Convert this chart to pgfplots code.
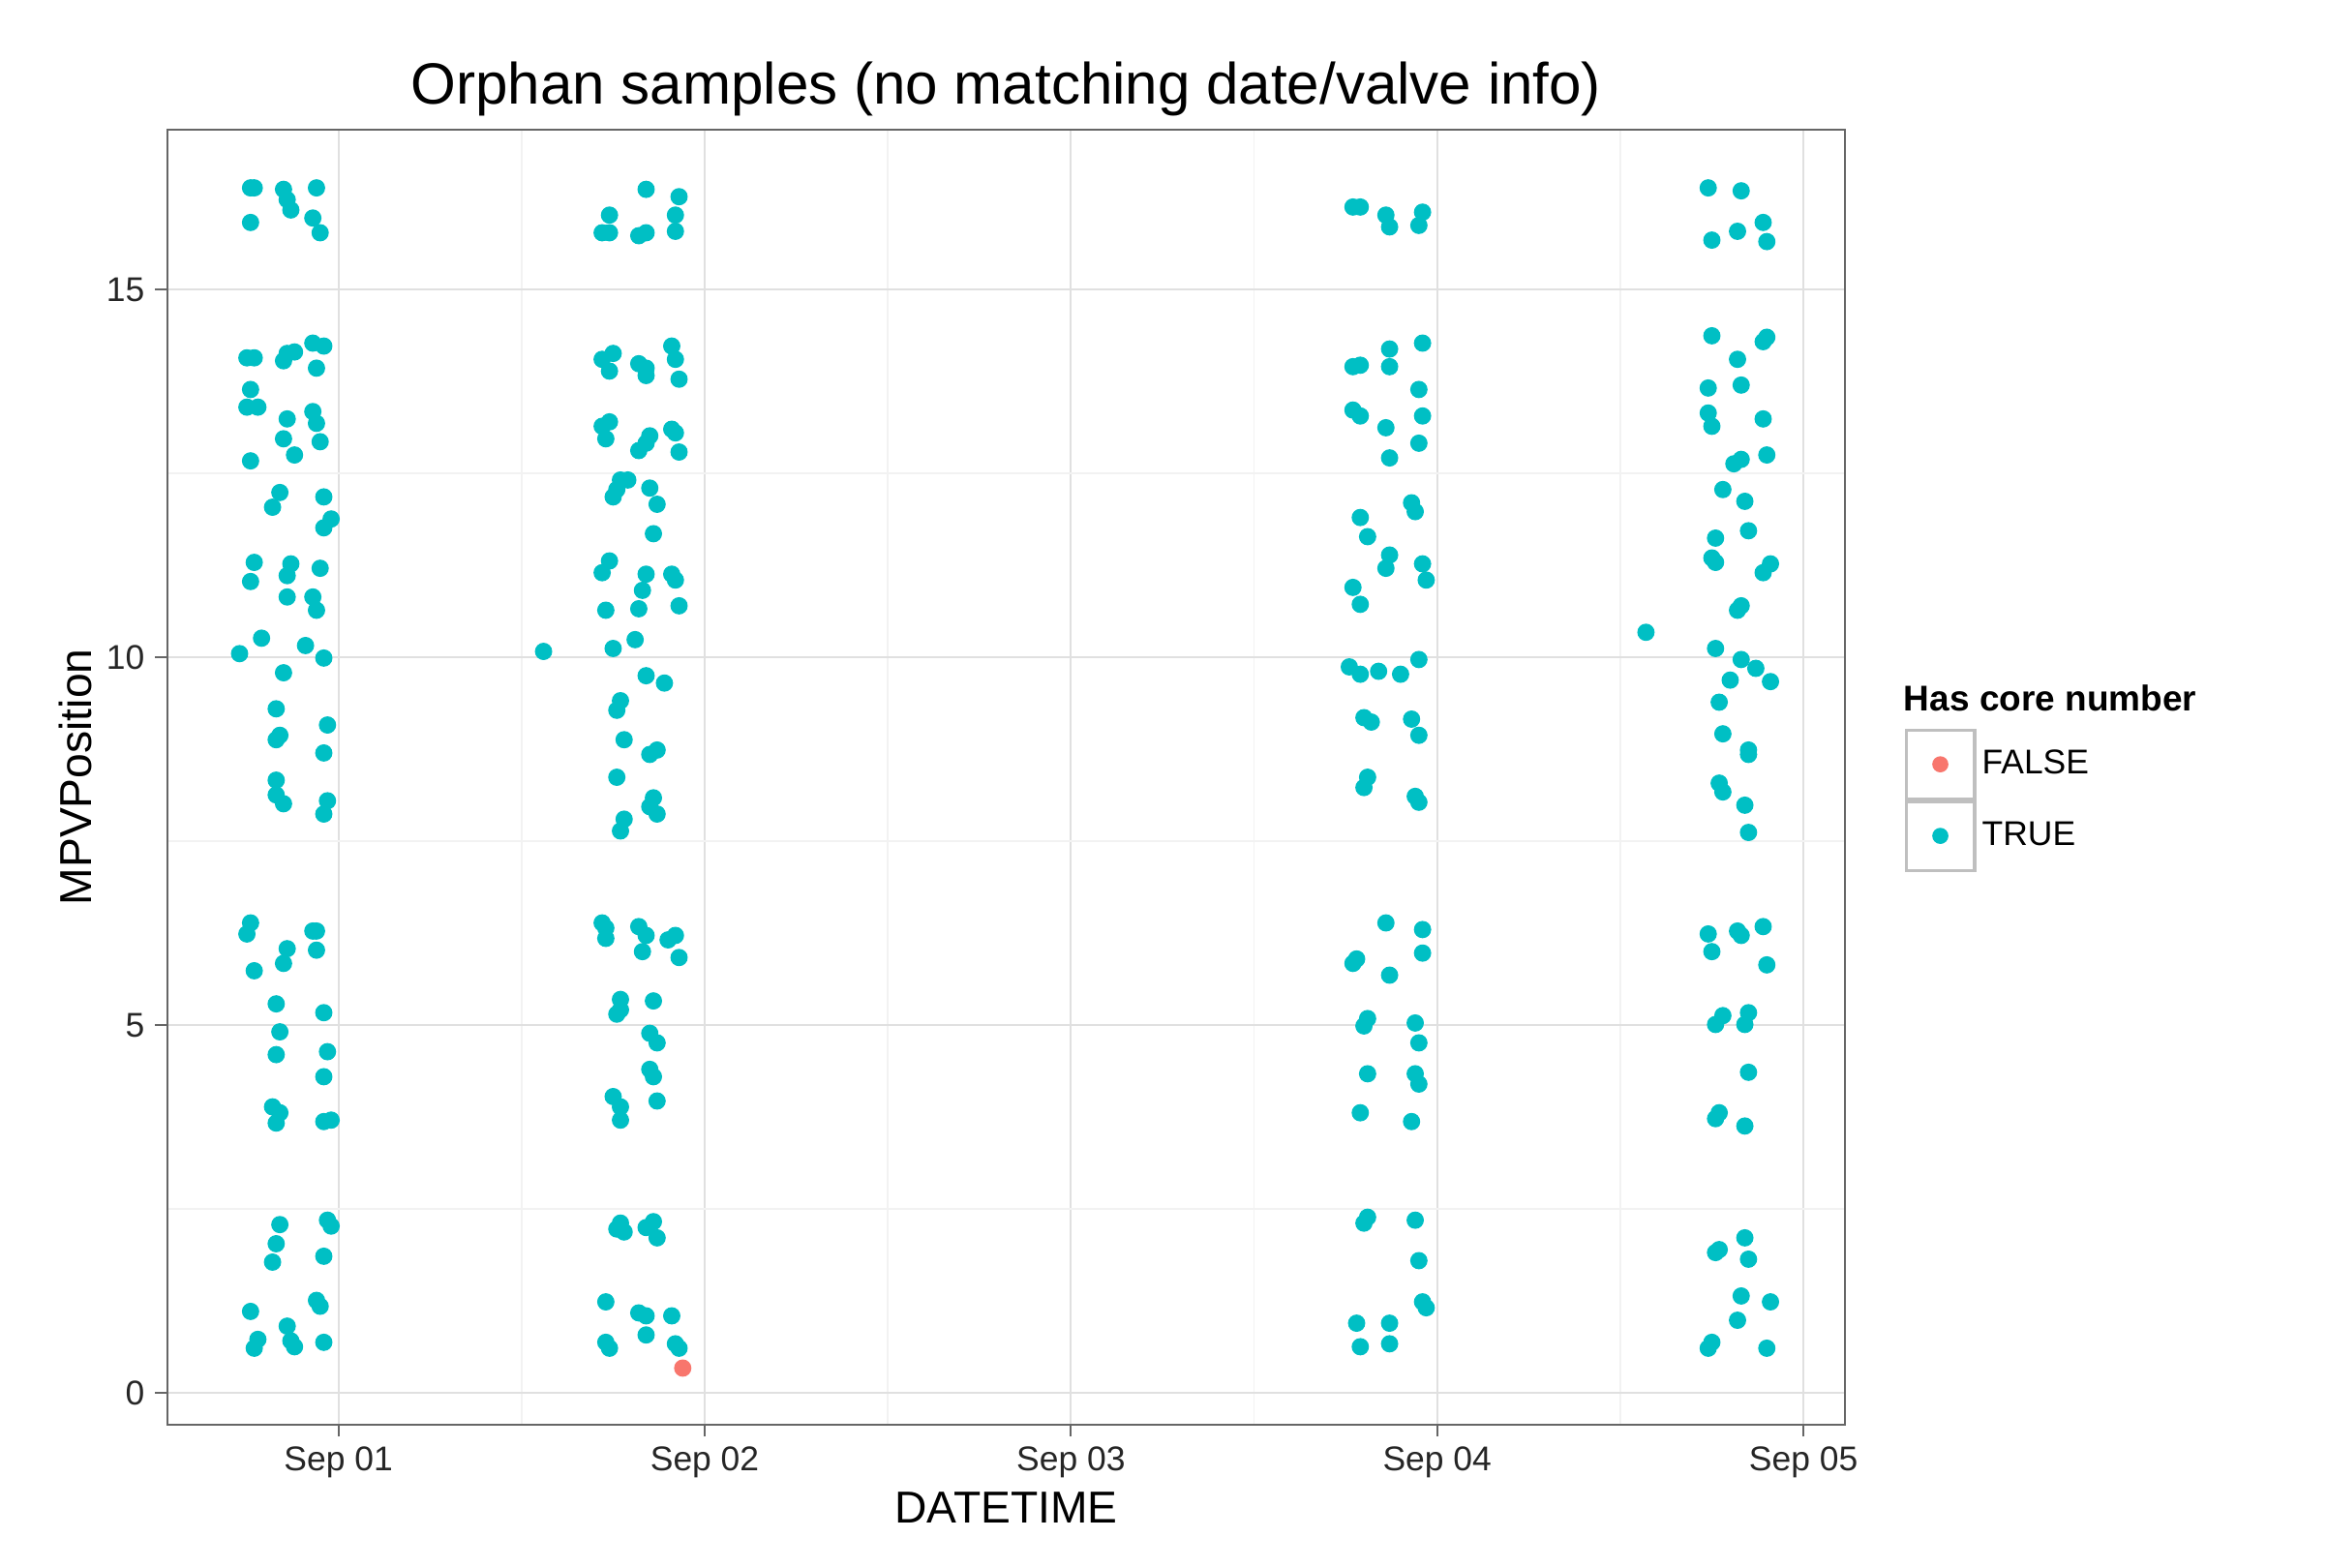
\documentclass[border=0pt]{standalone}
\usepackage{pgfplots}
\pgfplotsset{compat=1.18}
\usepackage{fontspec}
\setmainfont{Liberation Sans}
\definecolor{tealc}{HTML}{00BFC4}
\definecolor{redc}{HTML}{F8766D}
\begin{document}
\begin{tikzpicture}
\path[use as bounding box] (-56pt,-48pt) rectangle (724pt,477.5pt);
\begin{axis}[at={(0,0)},anchor=south west,scale only axis,width=562.5pt,height=434pt,
 xmin=-0.468,xmax=4.114,ymin=-0.426,ymax=17.17,
 xtick={0,1,2,3,4},xticklabels={Sep 01,Sep 02,Sep 03,Sep 04,Sep 05},
 minor xtick={0.5,1.5,2.5,3.5},
 ytick={0,5,10,15},minor ytick={2.5,7.5,12.5},
 grid=both,major grid style={black!12,line width=0.6pt},minor grid style={black!5,line width=0.5pt},
 axis line style={black!60,line width=0.6pt},
 tick style={black!60,line width=0.6pt},tick align=outside,major tick length=4pt,minor tick length=0pt,
 xtick pos=bottom,ytick pos=left,
 tick label style={font=\fontsize{11.5}{13}\selectfont,text=black!85},
 /pgf/number format/assume math mode=true,
 xlabel={DATETIME},ylabel={MPVPosition},
 label style={font=\fontsize{15}{18}\selectfont},
 xlabel style={yshift=2pt},ylabel style={yshift=-2pt},
 title={Orphan samples (no matching date/valve info)},
 title style={font=\fontsize{19.5}{23}\selectfont,yshift=-5pt},
 legend style={at={(1.035,0.538)},anchor=north west,draw=none,fill=none,font=\fontsize{11.5}{14}\selectfont,row sep=0pt,inner sep=0pt},
 legend cell align=left,
 legend image code/.code={\draw[black!25,line width=1pt,fill=white] (0pt,-11.5pt) rectangle (23pt,11.5pt); \path plot[mark=*,mark size=2.5pt] coordinates {(11.5pt,0pt)};},
]
\addplot[only marks,mark=*,mark size=2.7pt,color=redc] coordinates {(0.94,0.34)};
\addlegendentry{FALSE}
\addplot[only marks,mark=*,mark size=2.7pt,color=tealc] coordinates {
(-0.24,16.38)(-0.23,16.38)(-0.15,16.36)(-0.14,16.22)(-0.13,16.08)(-0.06,16.38)(-0.07,15.97)(-0.05,15.77)(-0.24,15.91)
(-0.25,14.07)(-0.23,14.07)(-0.14,14.13)(-0.12,14.15)(-0.15,14.03)(-0.07,14.27)(-0.04,14.23)(-0.06,13.93)(-0.24,13.64)(-0.25,13.40)(-0.22,13.40)(-0.07,13.34)(-0.06,13.18)(-0.14,13.24)(-0.15,12.97)(-0.12,12.75)(-0.05,12.93)(-0.24,12.67)(-0.16,12.24)(-0.18,12.04)(-0.04,12.18)(-0.02,11.88)(-0.04,11.76)(-0.23,11.29)(-0.24,11.03)(-0.13,11.27)(-0.14,11.11)(-0.05,11.21)(-0.14,10.82)(-0.07,10.82)(-0.06,10.64)(-0.21,10.26)(-0.27,10.05)(-0.09,10.16)(-0.04,9.99)(-0.15,9.79)(-0.17,9.30)(-0.16,8.94)(-0.17,8.88)(-0.03,9.08)(-0.04,8.70)(-0.17,8.33)(-0.17,8.13)(-0.15,8.01)(-0.03,8.05)(-0.04,7.87)
(-0.24,6.39)(-0.25,6.24)(-0.14,6.04)(-0.15,5.84)(-0.07,6.28)(-0.06,6.28)(-0.06,6.02)(-0.23,5.74)(-0.17,5.29)(-0.04,5.17)(-0.16,4.91)(-0.17,4.60)(-0.03,4.64)(-0.04,4.30)(-0.18,3.89)(-0.16,3.81)(-0.17,3.67)(-0.04,3.69)(-0.02,3.71)
(-0.03,2.35)(-0.02,2.27)(-0.16,2.29)(-0.17,2.03)(-0.18,1.78)(-0.04,1.86)(-0.06,1.26)(-0.05,1.18)(-0.24,1.11)(-0.14,0.91)(-0.22,0.73)(-0.23,0.61)(-0.13,0.71)(-0.12,0.63)(-0.04,0.69)
(0.84,16.36)(0.74,16.01)(0.93,16.26)(0.92,16.01)(0.72,15.77)(0.74,15.77)(0.82,15.73)(0.84,15.77)(0.92,15.79)
(0.72,14.05)(0.75,14.13)(0.82,13.99)(0.84,13.93)(0.91,14.23)(0.92,14.05)(0.74,13.89)(0.84,13.83)(0.93,13.78)(0.72,13.14)(0.74,13.20)(0.73,12.97)(0.91,13.10)(0.92,13.05)(0.85,13.01)(0.84,12.91)(0.82,12.81)(0.93,12.79)(0.77,12.41)(0.79,12.41)(0.76,12.28)(0.75,12.18)(0.85,12.30)(0.87,12.08)(0.86,11.68)(0.74,11.31)(0.72,11.15)(0.84,11.13)(0.91,11.13)(0.92,11.05)(0.83,10.91)(0.73,10.64)(0.82,10.66)(0.93,10.70)(0.81,10.24)(0.75,10.12)(0.56,10.08)(0.84,9.75)(0.89,9.65)(0.77,9.41)(0.76,9.28)(0.78,8.88)(0.87,8.74)(0.85,8.68)(0.76,8.37)(0.86,8.09)(0.85,7.97)(0.87,7.87)(0.78,7.80)(0.77,7.64)
(0.72,6.39)(0.73,6.32)(0.82,6.34)(0.84,6.22)(0.92,6.22)(0.90,6.16)(0.73,6.18)(0.83,6.00)(0.93,5.92)(0.77,5.35)(0.86,5.33)(0.77,5.21)(0.76,5.15)(0.85,4.89)(0.87,4.76)(0.85,4.40)(0.86,4.30)(0.75,4.03)(0.77,3.89)(0.87,3.97)(0.77,3.71)
(0.77,2.31)(0.76,2.23)(0.78,2.19)(0.86,2.33)(0.84,2.25)(0.87,2.11)(0.73,1.24)(0.82,1.09)(0.84,1.05)(0.91,1.05)(0.84,0.79)(0.73,0.69)(0.74,0.61)(0.92,0.67)(0.93,0.61)
(2.77,16.12)(2.79,16.12)(2.86,16.01)(2.87,15.85)(2.96,16.05)(2.95,15.87)
(2.77,13.95)(2.79,13.97)(2.87,13.95)(2.87,14.19)(2.96,14.27)(2.95,13.64)(2.77,13.36)(2.79,13.28)(2.86,13.12)(2.96,13.28)(2.95,12.91)(2.87,12.71)(2.79,11.90)(2.81,11.64)(2.93,12.10)(2.94,11.98)(2.87,11.39)(2.86,11.21)(2.96,11.27)(2.97,11.05)(2.77,10.95)(2.79,10.72)(2.95,9.97)(2.76,9.87)(2.79,9.77)(2.84,9.81)(2.90,9.77)(2.80,9.18)(2.82,9.12)(2.93,9.16)(2.95,8.94)(2.81,8.37)(2.80,8.23)(2.94,8.11)(2.95,8.03)
(2.86,6.39)(2.96,6.30)(2.96,5.98)(2.78,5.90)(2.77,5.84)(2.87,5.68)(2.81,5.09)(2.80,4.99)(2.94,5.03)(2.95,4.76)(2.81,4.34)(2.94,4.34)(2.95,4.20)(2.79,3.81)(2.93,3.69)
(2.81,2.39)(2.80,2.31)(2.94,2.35)(2.95,1.80)(2.96,1.24)(2.97,1.16)(2.78,0.95)(2.87,0.95)(2.79,0.63)(2.87,0.67)
(3.57,10.34)
(3.74,16.38)(3.83,16.34)(3.75,15.67)(3.82,15.79)(3.89,15.91)(3.90,15.65)
(3.75,14.37)(3.82,14.05)(3.90,14.35)(3.89,14.29)(3.74,13.32)(3.75,13.14)(3.83,13.70)(3.74,13.66)(3.89,13.24)(3.83,12.69)(3.81,12.63)(3.90,12.75)(3.78,12.28)(3.84,12.12)(3.85,11.72)(3.76,11.62)(3.75,11.35)(3.76,11.29)(3.91,11.27)(3.89,11.15)(3.83,10.70)(3.82,10.64)(3.76,10.12)(3.83,9.97)(3.87,9.85)(3.91,9.67)(3.80,9.69)(3.77,9.39)(3.78,8.96)(3.85,8.74)(3.85,8.68)(3.77,8.29)(3.78,8.17)(3.84,7.99)(3.85,7.62)
(3.74,6.24)(3.82,6.28)(3.83,6.22)(3.89,6.34)(3.75,6.00)(3.90,5.82)(3.78,5.13)(3.85,5.17)(3.76,5.01)(3.84,5.01)(3.85,4.36)(3.77,3.81)(3.76,3.73)(3.84,3.63)
(3.77,1.95)(3.76,1.91)(3.84,2.11)(3.85,1.82)(3.83,1.32)(3.91,1.24)(3.82,0.99)(3.75,0.69)(3.74,0.61)(3.90,0.61)
};
\addlegendentry{TRUE}
\end{axis}
\node[anchor=south west,font=\bfseries\fontsize{12}{14}\selectfont,inner sep=0pt] at (582pt,239pt) {Has core number};
\end{tikzpicture}
\end{document}
